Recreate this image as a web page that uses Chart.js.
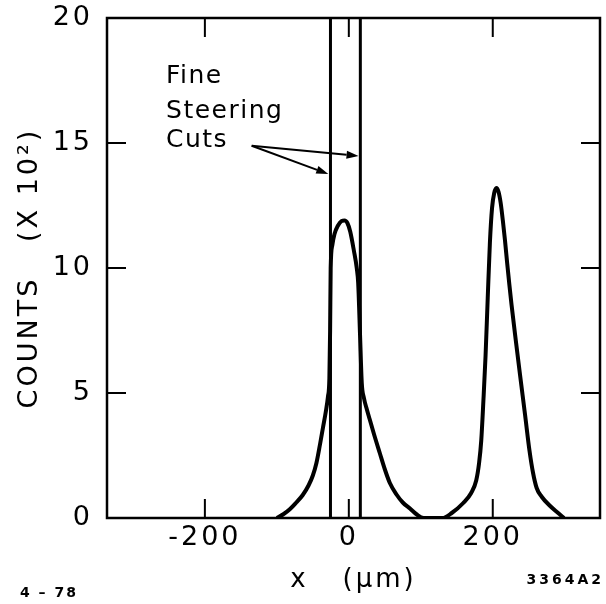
<!DOCTYPE html>
<html>
<head>
<meta charset="utf-8">
<script src="https://cdn.jsdelivr.net/npm/chart.js@4/dist/chart.umd.min.js"></script>
<style>
html,body{margin:0;padding:0;background:#fff;}
#wrap{width:606px;height:604px;}
</style>
</head>
<body>
<div id="wrap"><canvas id="c" width="606" height="604"></canvas></div>
<script>
// ---- data ----
// beam profile: x position (µm) and counts (×10²)
const positionUm = [
  -100,-91,-82,-73,-64,-56,-50,-45,-40,-36,-32,-29,-27,-26,-25.2,-23,-20,-15,-10,-6,-2,2,7,11,13,15.5,18,21,25,29,35,43,50,57,66,75,85,94,104,
  130,143,159,170,177,181,184,187,190,193,196,199,202,205,208,211,214,217,220,223,226,232,238,245,251,256,261,268,279,290,299
];
const countsE2 = [
  0,0.15,0.35,0.62,0.92,1.3,1.7,2.2,2.95,3.6,4.25,4.85,5.6,7.5,10.0,10.9,11.35,11.7,11.88,11.9,11.8,11.45,10.7,10.0,9.4,7.4,5.4,4.8,4.35,3.95,3.35,2.6,1.95,1.4,0.95,0.62,0.38,0.15,0,
  0,0.2,0.6,1.0,1.5,2.2,3.1,4.7,6.5,8.8,11.0,12.4,13.0,13.2,13.05,12.6,11.9,11.1,10.2,9.35,8.55,7.1,5.7,4.1,2.7,1.8,1.2,0.85,0.5,0.22,0
];
// fine steering cut positions (µm)
const cutPositions = [-25.5, 16];
// axes
const xTickValues = [-200, 0, 200];
const yTickValues = [0, 5, 10, 15, 20];
const xRange = [-336, 349];
const yRange = [0, 20];
// annotation (data coordinates)
const noteLines = ['Fine', 'Steering', 'Cuts'];
const noteX = -254;
const noteBaselines = [17.4, 16.0, 14.84];
const arrowFrom = {x: -135, y: 14.89};
const arrowTips = [{x: -28.5, y: 13.76}, {x: 13.5, y: 14.48}];
const footLeft = '4 – 78';
const footRight = '3364A2';

const FONT = '"DejaVu Sans", "Liberation Sans", sans-serif';

const frameAndNotes = {
  id: 'frameAndNotes',
  beforeDraw(chart) { chart.ctx.letterSpacing = '3px'; },
  afterDatasetsDraw(chart) {
    const {ctx, chartArea: a, scales: {x, y}} = chart;
    ctx.save();
    ctx.strokeStyle = '#000';
    ctx.fillStyle = '#000';
    ctx.lineWidth = 2.5;
    ctx.strokeRect(a.left, a.top, a.right - a.left, a.bottom - a.top);
    ctx.lineWidth = 2;
    const tl = 19;
    xTickValues.forEach(v => {
      const px = x.getPixelForValue(v);
      ctx.beginPath();
      ctx.moveTo(px, a.bottom); ctx.lineTo(px, a.bottom - tl);
      ctx.moveTo(px, a.top); ctx.lineTo(px, a.top + tl);
      ctx.stroke();
    });
    yTickValues.forEach(v => {
      const py = y.getPixelForValue(v);
      ctx.beginPath();
      ctx.moveTo(a.left, py); ctx.lineTo(a.left + tl, py);
      ctx.moveTo(a.right, py); ctx.lineTo(a.right - tl, py);
      ctx.stroke();
    });
    // annotation text
    ctx.font = '25px ' + FONT;
    ctx.letterSpacing = '1.5px';
    ctx.textAlign = 'left';
    ctx.textBaseline = 'alphabetic';
    noteLines.forEach((t, i) => ctx.fillText(t, x.getPixelForValue(noteX), y.getPixelForValue(noteBaselines[i])));
    // arrows
    const fx = x.getPixelForValue(arrowFrom.x), fy = y.getPixelForValue(arrowFrom.y);
    ctx.lineWidth = 2;
    arrowTips.forEach(t => {
      const tx = x.getPixelForValue(t.x), ty = y.getPixelForValue(t.y);
      const ang = Math.atan2(ty - fy, tx - fx);
      const L = 12, W = 4;
      ctx.beginPath();
      ctx.moveTo(fx, fy);
      ctx.lineTo(tx - L * Math.cos(ang), ty - L * Math.sin(ang));
      ctx.stroke();
      ctx.beginPath();
      ctx.moveTo(tx, ty);
      ctx.lineTo(tx - L * Math.cos(ang) - W * Math.sin(ang), ty - L * Math.sin(ang) + W * Math.cos(ang));
      ctx.lineTo(tx - L * Math.cos(ang) + W * Math.sin(ang), ty - L * Math.sin(ang) - W * Math.cos(ang));
      ctx.closePath();
      ctx.fill();
    });
    // figure notes
    ctx.font = 'bold 14px ' + FONT;
    ctx.letterSpacing = '2px';
    ctx.textAlign = 'left';
    ctx.fillText(footLeft, 20, 597);
    ctx.letterSpacing = '3px';
    ctx.textAlign = 'right';
    ctx.fillText(footRight, 604, 584);
    ctx.restore();
  },
  afterDraw(chart) { chart.ctx.letterSpacing = '0px'; }
};

new Chart(document.getElementById('c'), {
  type: 'scatter',
  data: {
    datasets: [
      {
        label: 'Counts',
        data: positionUm.map((v, i) => ({x: v, y: countsE2[i]})),
        showLine: true,
        borderColor: '#000',
        borderWidth: 4,
        pointRadius: 0,
        cubicInterpolationMode: 'monotone',
        fill: false
      },
      ...cutPositions.map(c => ({
        label: 'Fine steering cut',
        data: [{x: c, y: yRange[0]}, {x: c, y: yRange[1]}],
        showLine: true,
        borderColor: '#000',
        borderWidth: 3,
        pointRadius: 0
      }))
    ]
  },
  options: {
    responsive: false,
    animation: false,
    devicePixelRatio: 1,
    layout: {padding: {left: 0, right: 6, top: 18, bottom: 0}},
    plugins: {legend: {display: false}, tooltip: {enabled: false}},
    scales: {
      x: {
        type: 'linear',
        min: xRange[0], max: xRange[1],
        afterBuildTicks: s => { s.ticks = xTickValues.map(v => ({value: v})); },
        afterFit: s => { s.height = 86; s.paddingLeft = 0; s.paddingRight = 0; },
        grid: {display: false, drawTicks: false},
        border: {display: false},
        ticks: {color: '#000', font: {family: FONT, size: 27}, padding: 4, maxRotation: 0, autoSkip: false},
        title: {display: true, text: 'x   (µm)', color: '#000', font: {family: FONT, size: 26}, padding: {top: 0, bottom: 8}}
      },
      y: {
        type: 'linear',
        min: yRange[0], max: yRange[1],
        afterBuildTicks: s => { s.ticks = yTickValues.map(v => ({value: v})); },
        afterFit: s => { s.width = 107; s.paddingTop = 0; s.paddingBottom = 0; },
        grid: {display: false, drawTicks: false},
        border: {display: false},
        ticks: {color: '#000', font: {family: FONT, size: 27}, padding: 14, autoSkip: false},
        title: {display: true, text: 'COUNTS   (X 10²)', color: '#000', font: {family: FONT, size: 27}, padding: {top: 14, bottom: 0}}
      }
    }
  },
  plugins: [frameAndNotes]
});
</script>
</body>
</html>
